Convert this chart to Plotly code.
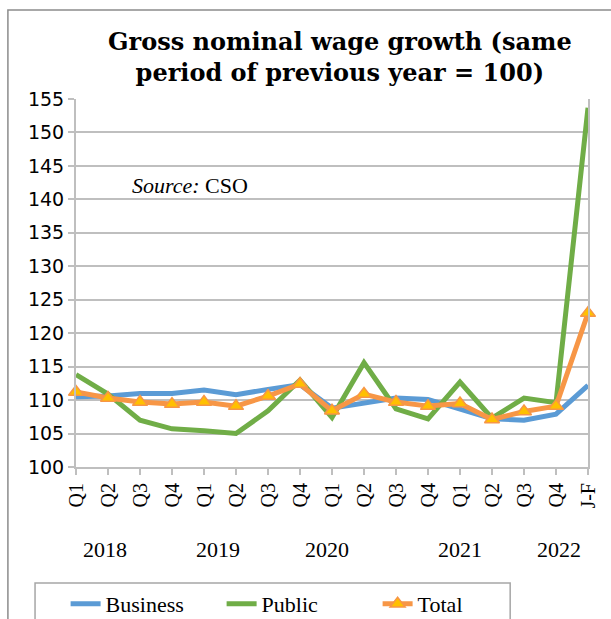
import plotly.graph_objects as go

# Quarterly labels (last point is January-February 2022)
quarters = ["Q1", "Q2", "Q3", "Q4", "Q1", "Q2", "Q3", "Q4", "Q1", "Q2", "Q3", "Q4",
            "Q1", "Q2", "Q3", "Q4", "J-F"]
years = ["2018", "2019", "2020", "2021", "2022"]
year_pos = [0.9, 4.45, 7.85, 12.0, 15.1]

business = [110.5, 110.6, 111.0, 111.0, 111.5, 110.8, 111.6, 112.3, 108.8,
            109.5, 110.3, 110.1, 108.7, 107.2, 107.0, 107.9, 112.2]
public = [113.8, 110.9, 107.0, 105.7, 105.4, 105.0, 108.4, 113.0, 107.4,
          115.6, 108.7, 107.2, 112.7, 107.3, 110.3, 109.6, 153.7]
total = [111.2, 110.3, 109.7, 109.4, 109.7, 109.1, 110.6, 112.4, 108.4,
         110.9, 109.7, 109.1, 109.5, 107.1, 108.3, 109.1, 123.0]

x = list(range(len(quarters)))
serif = "Liberation Serif"

fig = go.Figure()
fig.add_trace(go.Scatter(x=x, y=business, name="Business", mode="lines",
                         line=dict(color="#5B9BD5", width=5), cliponaxis=False))
fig.add_trace(go.Scatter(x=x, y=public, name="Public", mode="lines",
                         line=dict(color="#70AD47", width=5), cliponaxis=False))
fig.add_trace(go.Scatter(x=x, y=total, name="Total", mode="lines+markers",
                         line=dict(color="#F79646", width=5),
                         marker=dict(symbol="triangle-up", size=13, color="#FFC000",
                                     line=dict(color="#F79646", width=1.5)),
                         cliponaxis=False))

fig.update_layout(
    width=611, height=619,
    margin=dict(l=76, r=23, t=99, b=152, autoexpand=False),
    paper_bgcolor="white", plot_bgcolor="white",
    showlegend=True,
    legend=dict(orientation="h", x=-0.0203, y=-0.315, xanchor="left", yanchor="top",
                borderwidth=0, bgcolor="rgba(0,0,0,0)",
                font=dict(family=serif, size=22, color="black"),
                entrywidth=111, entrywidthmode="pixels", itemwidth=30),
    xaxis=dict(range=[0, 16], tickmode="array", tickvals=x, ticktext=quarters,
               tickangle=-90, showgrid=False, zeroline=False,
               showline=True, linecolor="#BFBFBF", linewidth=2, mirror=False,
               ticks="outside", ticklen=6, tickcolor="#BFBFBF", tickwidth=2,
               tickfont=dict(family=serif, size=20, color="black")),
    yaxis=dict(range=[100, 155], dtick=5, showgrid=True, gridcolor="#BFBFBF",
               gridwidth=2, zeroline=False, showline=True, linecolor="#BFBFBF",
               linewidth=2, mirror=True, ticks="outside", ticklen=6,
               tickcolor="#BFBFBF", tickwidth=2,
               tickfont=dict(family="DejaVu Sans", size=19, color="black")),
)

# Year labels under the quarter ticks
for yr, pos in zip(years, year_pos):
    fig.add_annotation(x=pos, y=-0.225, xref="x", yref="paper", text=yr,
                       showarrow=False, xanchor="center", yanchor="middle",
                       font=dict(family=serif, size=22, color="black"))

fig.add_annotation(x=0.516, y=1.115, xref="paper", yref="paper",
                   text="<b>Gross nominal wage growth (same<br>period of previous year = 100)</b>",
                   showarrow=False, xanchor="center", yanchor="middle", align="center",
                   font=dict(family="DejaVu Serif", size=24, color="black"))

fig.add_annotation(x=0.222, y=0.766, xref="paper", yref="paper",
                   text="<i>Source:</i> CSO", showarrow=False,
                   xanchor="center", yanchor="middle",
                   font=dict(family=serif, size=22, color="black"))

# Chart frame
fig.add_shape(type="rect", xref="paper", yref="paper",
              x0=-0.133, x1=1.2, y0=-0.6, y1=1.242,
              line=dict(color="#8C8C8C", width=1.5), fillcolor="rgba(0,0,0,0)")
# Legend box
fig.add_shape(type="rect", xref="paper", yref="paper",
              x0=-0.080, x1=0.848, y0=-0.5, y1=-0.315,
              line=dict(color="#A6A6A6", width=1.5), fillcolor="rgba(0,0,0,0)")

fig.write_html("out.html")
